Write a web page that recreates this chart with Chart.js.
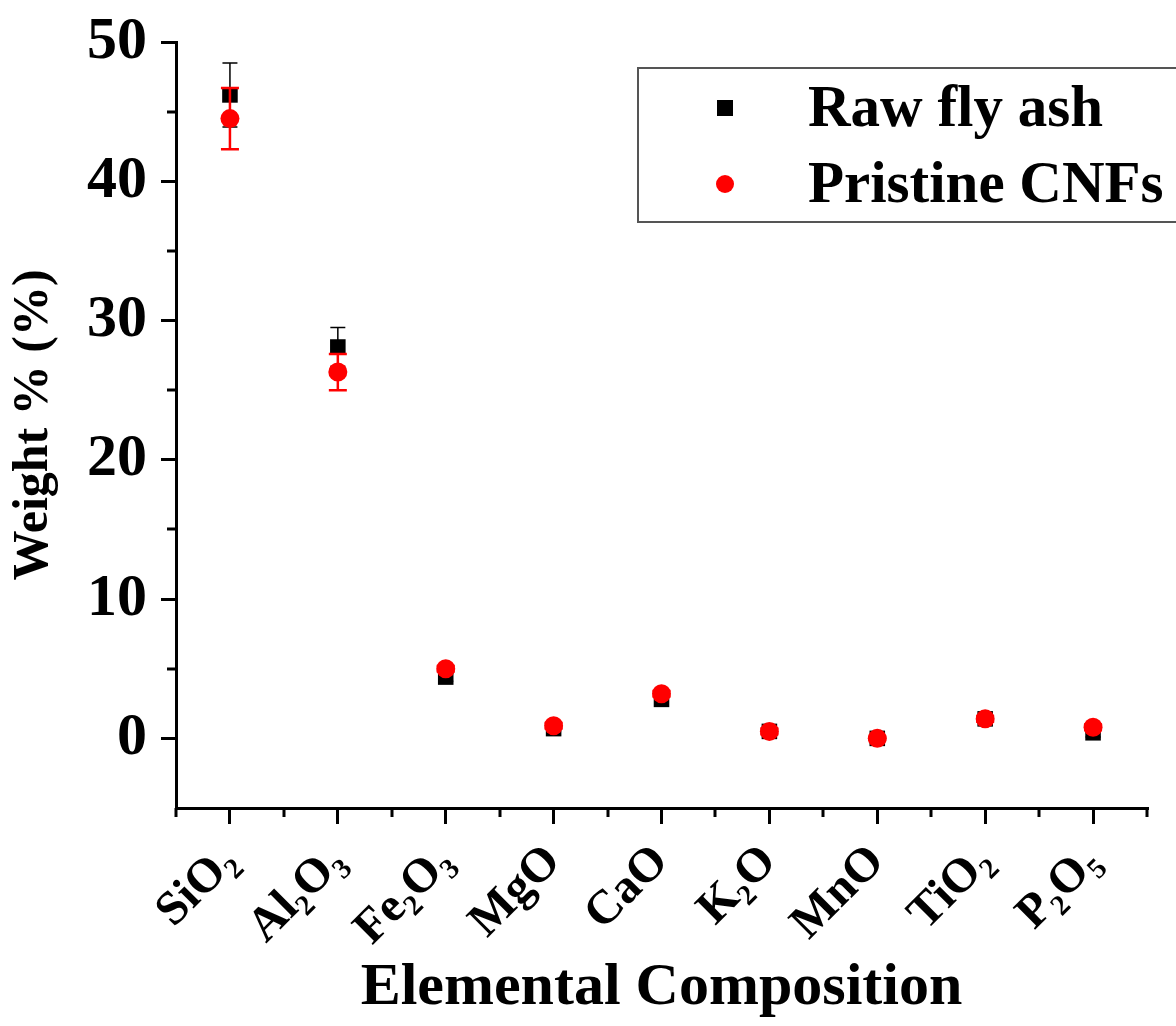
<!DOCTYPE html>
<html><head><meta charset="utf-8">
<script src="https://cdn.jsdelivr.net/npm/chart.js@4.4.0/dist/chart.umd.min.js"></script>
<style>
html,body{margin:0;padding:0;background:#fff;overflow:hidden}
#wrap{position:relative;width:1176px;height:1026px;overflow:hidden}
#legend{position:absolute;left:637px;top:67px;width:600px;height:156px;border:2px solid #555;box-sizing:border-box;font-family:"Liberation Serif",serif;font-weight:bold;font-size:59px;color:#000;background:#fff}
.row{position:absolute;left:0;width:100%;height:60px}
.mk{position:absolute;transform:translate(-50%,-50%);top:50%}
.lt{position:absolute;top:50%;transform:translateY(-52%);white-space:nowrap;line-height:1}
</style></head>
<body><div id="wrap"><canvas id="c" width="1176" height="1026"></canvas><div id="legend"></div></div>
<script>
// ---- data ----
const categories = ["SiO₂","Al₂O₃","Fe₂O₃","MgO","CaO","K₂O","MnO","TiO₂","P₂O₅"];
const seriesNames = ["Raw fly ash","Pristine CNFs"];
const rawFlyAsh = [46.2, 28.1, 4.4, 0.7, 2.8, 0.5, 0.0, 1.4, 0.4];
const rawFlyAshErr = [2.3, 1.4, 0.3, 0.2, 0.3, 0.2, 0.1, 0.2, 0.3];
const pristineCNFs = [44.5, 26.3, 5.0, 0.9, 3.2, 0.5, 0.0, 1.4, 0.8];
const pristineCNFsErr = [2.2, 1.3, 0.2, 0.2, 0.2, 0.2, 0.1, 0.2, 0.2];
const yTickValues = [0, 10, 20, 30, 40, 50];
const yMinorTickValues = [5, 15, 25, 35, 45];
const xMinorTickValues = [-0.5, 0.5, 1.5, 2.5, 3.5, 4.5, 5.5, 6.5, 7.5, 8.5];

const FONT = '"Liberation Serif", "Times New Roman", serif';

const errorBars = {
  id: 'errorBars',
  beforeDatasetDraw(chart, args) {
    const ds = chart.data.datasets[args.index];
    if (!ds.errors) return;
    const meta = chart.getDatasetMeta(args.index);
    const ys = chart.scales.y, ctx = chart.ctx;
    ctx.save();
    ctx.strokeStyle = ds.errColor;
    ctx.lineWidth = ds.errWidth;
    const cap = ds.errCap;
    meta.data.forEach((pt, i) => {
      const v = ds.data[i].y, e = ds.errors[i];
      const x = pt.x;
      const top = ys.getPixelForValue(v + e), bot = ys.getPixelForValue(v - e);
      ctx.beginPath();
      ctx.moveTo(x, top); ctx.lineTo(x, bot);
      ctx.moveTo(x - cap, top); ctx.lineTo(x + cap, top);
      ctx.moveTo(x - cap, bot); ctx.lineTo(x + cap, bot);
      ctx.stroke();
    });
    ctx.restore();
  }
};

const minorTicks = {
  id: 'minorTicks',
  afterDraw(chart) {
    const ctx = chart.ctx, xs = chart.scales.x, ys = chart.scales.y;
    const ca = chart.chartArea;
    ctx.save();
    ctx.strokeStyle = '#000';
    ctx.lineWidth = 3;
    ctx.beginPath();
    yMinorTickValues.forEach(v => {
      const py = Math.round(ys.getPixelForValue(v));
      ctx.moveTo(ca.left, py); ctx.lineTo(ca.left - 9, py);
    });
    xMinorTickValues.forEach(v => {
      const px = Math.round(xs.getPixelForValue(v));
      ctx.moveTo(px, ca.bottom); ctx.lineTo(px, ca.bottom + 9);
    });
    ctx.stroke();
    ctx.restore();
  }
};

const chart = new Chart(document.getElementById('c'), {
  type: 'scatter',
  data: {
    datasets: [
      {
        label: seriesNames[0],
        data: rawFlyAsh.map((v, i) => ({x: i, y: v})),
        errors: rawFlyAshErr, errColor: '#000', errWidth: 1.5, errCap: 7.5,
        pointStyle: 'rect', pointRadius: 11, pointHoverRadius: 11,
        backgroundColor: '#000', borderColor: '#000', pointBorderWidth: 0,
        order: 2
      },
      {
        label: seriesNames[1],
        data: pristineCNFs.map((v, i) => ({x: i, y: v})),
        errors: pristineCNFsErr, errColor: '#ff0000', errWidth: 2.5, errCap: 9,
        pointStyle: 'circle', pointRadius: 9.5, pointHoverRadius: 9.5,
        backgroundColor: '#ff0000', borderColor: '#ff0000', pointBorderWidth: 0,
        order: 1
      }
    ]
  },
  options: {
    responsive: false,
    animation: false,
    devicePixelRatio: 1,
    layout: {padding: {top: 42, right: 29, left: 0, bottom: 0}},
    plugins: {legend: {display: false}, tooltip: {enabled: false}},
    scales: {
      x: {
        type: 'linear', min: -0.5, max: 8.5,
        afterBuildTicks: s => { s.ticks = categories.map((c, i) => ({value: i})); },
        afterFit: s => { s.height = 218; s.paddingLeft = 0; s.paddingRight = 0; },
        ticks: {
          autoSkip: false, minRotation: 45, maxRotation: 45, padding: 10,
          color: '#000', font: {family: FONT, weight: 'bold', size: 48},
          callback: (v, i) => categories[i]
        },
        grid: {drawOnChartArea: false, drawTicks: true, tickLength: 16, lineWidth: 3, tickWidth: 3, tickColor: '#000'},
        border: {display: true, color: '#000', width: 3},
        title: {display: true, text: 'Elemental Composition', color: '#000',
          font: {family: FONT, weight: 'bold', size: 60}, padding: {top: 0, bottom: 2}}
      },
      y: {
        type: 'linear', min: -5, max: 50,
        afterBuildTicks: s => { s.ticks = yTickValues.map(v => ({value: v})); },
        afterFit: s => { s.width = 176; s.paddingTop = 0; s.paddingBottom = 0; },
        ticks: {color: '#000', padding: 14, font: {family: FONT, weight: 'bold', size: 60}},
        grid: {drawOnChartArea: false, drawTicks: true, tickLength: 15, lineWidth: 3, tickWidth: 3, tickColor: '#000'},
        border: {display: true, color: '#000', width: 3},
        title: {display: true, text: 'Weight % (%)', color: '#000',
          font: {family: FONT, weight: 'bold', size: 50}, padding: {top: 4, bottom: 0}}
      }
    }
  },
  plugins: [errorBars, minorTicks]
});

// legend built from the datasets
const legendEl = document.getElementById('legend');
const rowCenters = [39, 115];
chart.data.datasets.forEach((ds, i) => {
  const row = document.createElement('div');
  row.className = 'row';
  row.style.top = (rowCenters[i] - 30) + 'px';
  const mk = document.createElement('div');
  mk.className = 'mk';
  mk.style.left = '86px';
  const sz = ds.pointStyle === 'rect' ? 16 : 18;
  mk.style.width = sz + 'px'; mk.style.height = sz + 'px';
  mk.style.background = ds.backgroundColor;
  if (ds.pointStyle === 'circle') mk.style.borderRadius = '50%';
  const lt = document.createElement('div');
  lt.className = 'lt';
  lt.style.left = '169px';
  lt.textContent = ds.label;
  row.appendChild(mk); row.appendChild(lt);
  legendEl.appendChild(row);
});
</script>
</body></html>
